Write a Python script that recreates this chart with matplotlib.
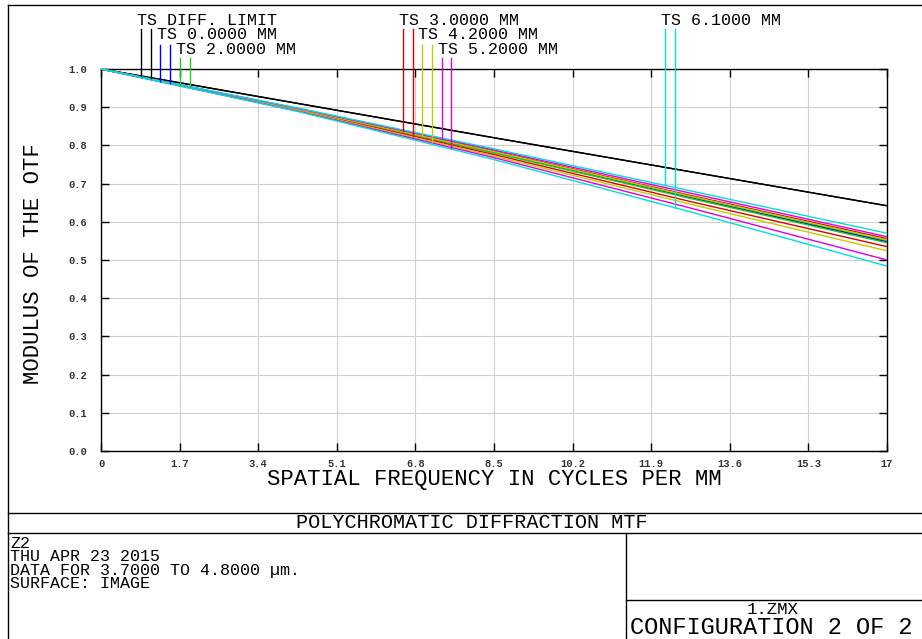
import numpy as np
import matplotlib
matplotlib.use("Agg")
import matplotlib.pyplot as plt
from matplotlib.lines import Line2D

# Tamaño de salida en pixeles
W, H = 922, 639
FUENTE = "Liberation Mono"

# Datos MTF (frecuencia en ciclos/mm)
FREQ = [0, 4.25, 8.5, 12.75, 17]
DIFF_T = [1.0, 0.910, 0.820, 0.731, 0.642]
DIFF_S = [1.0, 0.910, 0.820, 0.731, 0.642]
F00_T = [1.0, 0.894, 0.782, 0.664, 0.548]
F00_S = [1.0, 0.894, 0.782, 0.664, 0.548]
F20_T = [1.0, 0.895, 0.783, 0.666, 0.551]
F20_S = [1.0, 0.894, 0.780, 0.661, 0.545]
F30_T = [1.0, 0.896, 0.785, 0.669, 0.556]
F30_S = [1.0, 0.893, 0.776, 0.653, 0.535]
F42_T = [1.0, 0.895, 0.784, 0.667, 0.553]
F42_S = [1.0, 0.892, 0.772, 0.646, 0.524]
F52_T = [1.0, 0.897, 0.788, 0.675, 0.561]
F52_S = [1.0, 0.890, 0.768, 0.636, 0.500]
F61_T = [1.0, 0.898, 0.791, 0.681, 0.570]
F61_S = [1.0, 0.889, 0.763, 0.626, 0.484]

CAMPOS = ["DIFF. LIMIT", "0.0000 MM", "2.0000 MM", "3.0000 MM",
          "4.2000 MM", "5.2000 MM", "6.1000 MM"]
CURVAS = [(DIFF_T, DIFF_S), (F00_T, F00_S), (F20_T, F20_S), (F30_T, F30_S),
          (F42_T, F42_S), (F52_T, F52_S), (F61_T, F61_S)]
COLORES = ["#000000", "#0000ff", "#22cc22", "#e00000", "#c8c800", "#e000e0", "#00dede"]

XTICKS = [0, 1.7, 3.4, 5.1, 6.8, 8.5, 10.2, 11.9, 13.6, 15.3, 17]
XTICK_LABELS = ["0", "1.7", "3.4", "5.1", "6.8", "8.5", "10.2", "11.9", "13.6", "15.3", "17"]
YTICKS = [0.0, 0.1, 0.2, 0.3, 0.4, 0.5, 0.6, 0.7, 0.8, 0.9, 1.0]
YTICK_LABELS = ["0.0", "0.1", "0.2", "0.3", "0.4", "0.5", "0.6", "0.7", "0.8", "0.9", "1.0"]

INFO = ["Z2", "THU APR 23 2015", "DATA FOR 3.7000 TO 4.8000 \u00b5m.", "SURFACE: IMAGE"]


def fp(x, y):
    # pixel -> fraccion de figura
    return x / W, 1 - y / H


def linea_fig(fig, x0, y0, x1, y1):
    a, b = fp(x0, y0)
    c, d = fp(x1, y1)
    fig.add_artist(Line2D([a, c], [b, d], color="black", lw=1.0))


fig = plt.figure(figsize=(W / 100, H / 100), dpi=100)
fig.patch.set_facecolor("white")

x0, y0 = fp(101, 451)
x1, y1 = fp(887, 69)
ax = fig.add_axes([x0, y0, x1 - x0, y1 - y0])

for i, (t, s) in enumerate(CURVAS):
    ax.plot(FREQ, t, color=COLORES[i], lw=1.0, zorder=3)
    ax.plot(FREQ, s, color=COLORES[i], lw=1.0, zorder=3)

ax.set_xlim(0, 17)
ax.set_ylim(0, 1.0)
ax.set_xticks(XTICKS)
ax.set_xticklabels(XTICK_LABELS)
ax.set_yticks(YTICKS)
ax.set_yticklabels(YTICK_LABELS)
ax.tick_params(direction="in", length=6, width=1, top=True, right=True,
               labelsize=7.5, colors="black")
ax.tick_params(axis="y", pad=10)
ax.tick_params(axis="x", pad=6)
for lab in ax.get_xticklabels() + ax.get_yticklabels():
    lab.set_fontfamily(FUENTE)
    lab.set_fontweight("bold")
    lab.set_color("#333333")
ax.grid(True, color="#d0d0d0", lw=0.8)
ax.set_axisbelow(True)
for sp in ax.spines.values():
    sp.set_linewidth(1.0)

# Leyenda de Zemax: texto y dos lineas verticales que bajan hasta las curvas
GRUPO_X = [0.865, 6.525, 12.20]
TEXTO_Y = [1.128, 1.090, 1.050]
LINEA_Y = [1.105, 1.063, 1.029]
for i, nombre in enumerate(CAMPOS):
    g, fila = divmod(i, 3)
    xa = GRUPO_X[g] + fila * 0.42
    xb = xa + 0.215
    t, s = CURVAS[i]
    ax.plot([xa, xa], [LINEA_Y[fila], np.interp(xa, FREQ, t)], color=COLORES[i],
            lw=1.0, clip_on=False, zorder=4)
    ax.plot([xb, xb], [LINEA_Y[fila], np.interp(xb, FREQ, s)], color=COLORES[i],
            lw=1.0, clip_on=False, zorder=4)
    ax.text(xa - 0.08, TEXTO_Y[fila], "TS " + nombre, fontsize=12, family=FUENTE,
            ha="left", va="center", clip_on=False)

fig.text(*fp(34, 264), "MODULUS OF THE OTF", rotation=90, fontsize=16,
         family=FUENTE, ha="center", va="center")
fig.text(*fp(494, 479), "SPATIAL FREQUENCY IN CYCLES PER MM", fontsize=16,
         family=FUENTE, ha="center", va="center")

# Marco y cajetin inferior
linea_fig(fig, 8, 5, 922, 5)
linea_fig(fig, 8, 5, 8, 639)
linea_fig(fig, 8, 513, 922, 513)
linea_fig(fig, 8, 533, 922, 533)
linea_fig(fig, 626, 533, 626, 639)
linea_fig(fig, 626, 600, 922, 600)

fig.text(*fp(472, 523), "POLYCHROMATIC DIFFRACTION MTF", fontsize=14.5,
         family=FUENTE, ha="center", va="center")
for k, txt in enumerate(INFO):
    fig.text(*fp(10, 543 + k * 13.5), txt, fontsize=12, family=FUENTE,
             ha="left", va="center")
fig.text(*fp(773, 609), "1.ZMX", fontsize=12.5, family=FUENTE, ha="center", va="center")
fig.text(*fp(630, 627), "CONFIGURATION 2 OF 2", fontsize=17, family=FUENTE,
         ha="left", va="center")

fig.savefig("out.png", dpi=100)
